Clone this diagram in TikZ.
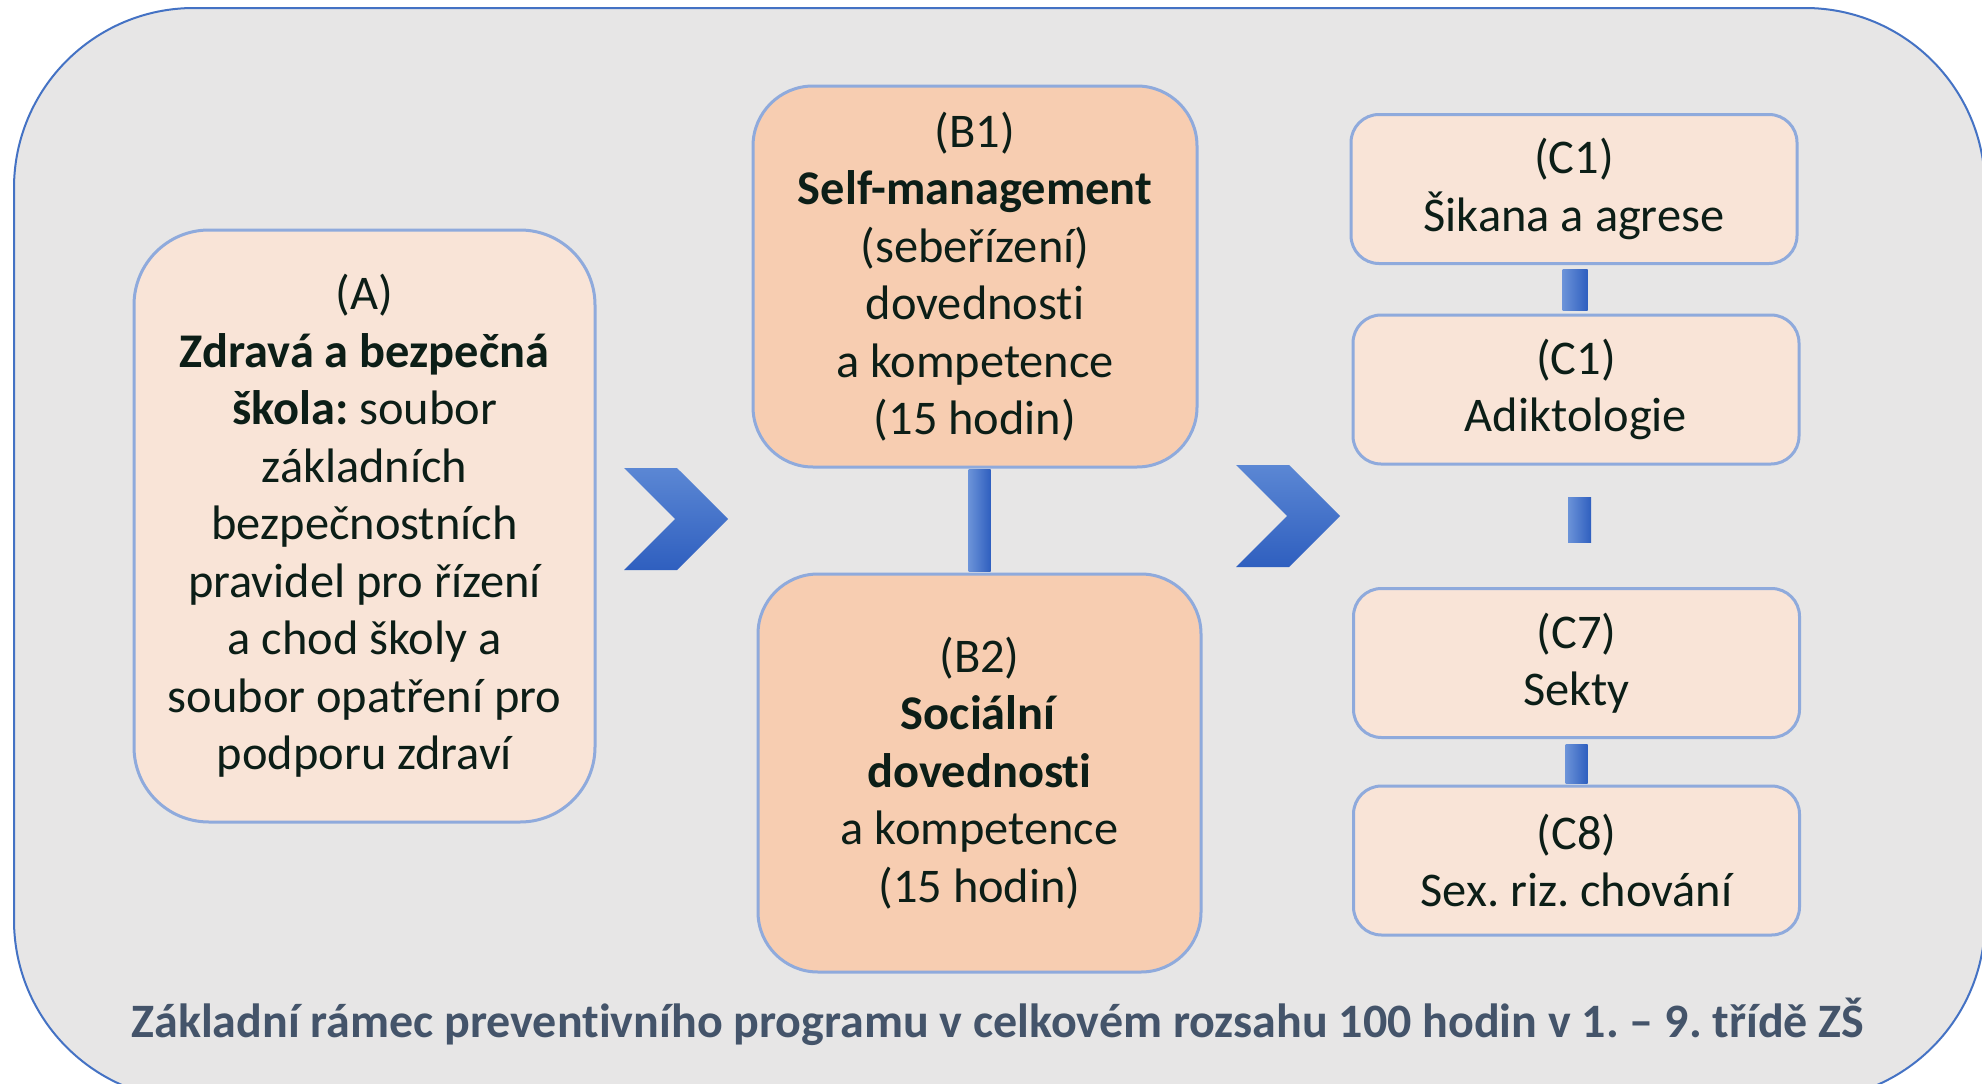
\documentclass[tikz,border=0pt]{standalone}
\usepackage{fontspec}
\setmainfont{Carlito}[Ligatures=NoCommon]
\usetikzlibrary{calc,shapes.symbols}
\frenchspacing

\definecolor{panelgray}{HTML}{E7E6E6}
\definecolor{panelblue}{HTML}{4472C4}
\definecolor{boxline}{HTML}{8FAADC}
\definecolor{lightpeach}{HTML}{F9E4D7}
\definecolor{peach}{HTML}{F7CDB1}
\definecolor{inktext}{HTML}{0C1E17}
\definecolor{slatetext}{HTML}{44546A}
\definecolor{bluelight}{HTML}{5B87D4}
\definecolor{bluedark}{HTML}{2F5FBF}

\begin{document}
\begin{tikzpicture}[x=1pt, y=-1pt,
  box/.style={rectangle, draw=boxline, line width=3pt, text=inktext, align=center, inner sep=0pt, font=\fontsize{48.4}{57.5}\selectfont},
  mainbox/.style={box, fill=lightpeach, rounded corners=75pt},
  skillbox/.style={box, fill=peach, rounded corners=60pt},
  topicbox/.style={box, fill=lightpeach, rounded corners=28pt, minimum width=446pt, minimum height=149pt},
  chevron/.style={signal, signal from=west, signal to=east, signal pointer angle=90, minimum width=104pt, minimum height=102pt, inner sep=0pt, top color=bluelight, bottom color=bluedark, draw=none},
  barfill/.style={left color=bluelight!90, right color=bluedark}
]
\fill[white] (0,0) rectangle (1982,1084);
\useasboundingbox (0,0) rectangle (1982,1084);

% panel
\begin{scope}
\clip (0,0) rectangle (1982,1084);
\draw[panelblue, line width=2pt, fill=panelgray, rounded corners=180pt] (14,8) rectangle (1985,1100);
\end{scope}

% left column
\node (schoolA) [mainbox, minimum width=461pt, minimum height=592pt] at (364.5,526) {(A)\\ \textbf{Zdravá a bezpečná}\\ \textbf{škola:} soubor\\ základních\\ bezpečnostních\\ pravidel pro řízení\\ a chod školy a\\ soubor opatření pro\\ podporu zdraví};

% middle column
\node (skillB1) [skillbox, minimum width=444pt, minimum height=381pt] at (975,276.5) {(B1)\\ \textbf{Self-management}\\ (sebeřízení)\\ dovednosti\\ a kompetence\\ (15 hodin)};
\node (skillB2) [skillbox, minimum width=443pt, minimum height=398pt] at (979.5,773) {(B2)\\ \textbf{Sociální}\\ \textbf{dovednosti}\\ a kompetence\\ (15 hodin)};

% right column
\node (topicC1a) [topicbox] at (1574,189) {(C1)\\ Šikana a agrese};
\node (topicC1b) [topicbox] at (1576,389.5) {(C1)\\ Adiktologie};
\node (topicC7) [topicbox] at (1576.5,663) {(C7)\\ Sekty};
\node (topicC8) [topicbox] at (1576.5,860.5) {(C8)\\ Sex. riz. chování};

% chevrons
\node (chevA) [chevron] at (676,519) {};
\node (chevB) [chevron] at (1288,516) {};

% bars
\shade[barfill] ($(skillB1.south -| skillB2.north)+(-11,1)$) rectangle ($(skillB2.north)+(11,-1)$);
\shade[barfill] ($(topicC1a.south)+(-11.5,4)$) rectangle ($(topicC1b.north)+(11.5,-3)$);
\node (gapbar) [barfill, rectangle, minimum width=23pt, minimum height=45pt, inner sep=0pt] at (1579.5,519.5) {};
\shade[barfill] ($(topicC7.south)+(-11,5)$) rectangle ($(topicC8.north)+(11,-1)$);

% caption
\node (caption) [text=slatetext, font=\bfseries\fontsize{48}{56}\selectfont] at (998,1022) {Základní rámec preventivního programu v celkovém rozsahu 100 hodin v 1. – 9. třídě ZŠ};

\end{tikzpicture}
\end{document}
